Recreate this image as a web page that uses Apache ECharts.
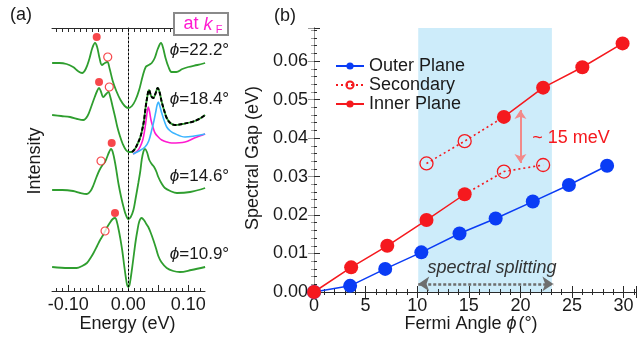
<!DOCTYPE html>
<html>
<head>
<meta charset="utf-8">
<script src="https://cdn.jsdelivr.net/npm/echarts@6/dist/echarts.min.js"></script>
<style>
html, body { margin: 0; padding: 0; background: #fff; }
#chart { width: 638px; height: 342px; }
</style>
</head>
<body>
<div id="chart"></div>
<script>
// ---- panel (a): symmetrized EDCs at kF, [energy (eV), intensity (arb., stacked)]
var edc222 = [[-0.127,228],[-0.115,228],[-0.103,227],[-0.092,224],[-0.084,220],[-0.077,218],[-0.071,222],[-0.065,232],[-0.060,243],[-0.0555,248],[-0.052,244],[-0.048,233],[-0.044,226],[-0.039,228],[-0.035,229],[-0.031,222],[-0.026,210],[-0.02,200],[-0.013,191],[-0.006,185],[0,183],[0.006,185],[0.012,191],[0.018,201],[0.024,215],[0.029,224],[0.034,226],[0.039,228],[0.044,233],[0.049,242],[0.0545,248],[0.058,243],[0.062,233],[0.067,224],[0.072,219],[0.08,219],[0.09,222],[0.1,224],[0.115,226],[0.128,228]];
var edc184 = [[-0.127,176],[-0.112,175],[-0.097,174],[-0.085,172],[-0.075,171],[-0.068,175],[-0.062,184],[-0.056,194],[-0.052,200],[-0.0488,203],[-0.046,200],[-0.0417,194],[-0.037,197],[-0.0333,199],[-0.030,194],[-0.026,184],[-0.022,174],[-0.0183,164],[-0.014,155],[-0.0093,147],[-0.004,141],[0.001,139],[0.006,139],[0.011,142],[0.016,148],[0.0195,153],[0.0223,159],[0.026,170],[0.0285,182],[0.0307,191],[0.0345,201],[0.038,195],[0.0417,193],[0.045,197],[0.049,203],[0.052,199],[0.0557,189],[0.06,180],[0.064,173],[0.07,168],[0.0778,166],[0.09,167],[0.1057,169],[0.118,172],[0.128,176]];
var edc146 = [[-0.127,101],[-0.11,101],[-0.092,100],[-0.08,98],[-0.069,97],[-0.063,100],[-0.058,106],[-0.053,114],[-0.048,121],[-0.043,126],[-0.039,129],[-0.036,133],[-0.032,139],[-0.029,142],[-0.026,139],[-0.022,128],[-0.019,117],[-0.016,106],[-0.012,94],[-0.008,84],[-0.004,76],[0,72],[0.004,74],[0.0085,81],[0.012,92],[0.0167,108],[0.02,120],[0.0223,131],[0.025,139],[0.0278,142],[0.031,139],[0.035,131],[0.039,127],[0.043,124],[0.047,119],[0.05,114],[0.055,108],[0.061,103],[0.07,100],[0.081,98],[0.103,99],[0.128,103]];
var edc109 = [[-0.127,24],[-0.1,23],[-0.086,23],[-0.077,25],[-0.069,28],[-0.063,33],[-0.058,38],[-0.052,45],[-0.047,51],[-0.041,57],[-0.036,63],[-0.031,68],[-0.026,72],[-0.022,73],[-0.019,69],[-0.016,61],[-0.0138,54],[-0.01,40],[-0.007,26],[-0.004,13],[-0.002,6],[0,4],[0.002,6],[0.004,13],[0.007,26],[0.01,40],[0.0125,51],[0.015,60],[0.018,69],[0.022,73],[0.026,71],[0.03,67],[0.0333,64],[0.0375,58],[0.0417,51],[0.046,43],[0.05,35],[0.055,29],[0.064,23],[0.075,20],[0.086,19],[0.105,21],[0.128,24]];
// two-peak fit of the 18.4 deg curve and its components
var fitSum = [[0.006,139],[0.011,142],[0.016,148],[0.0195,153],[0.0223,159],[0.026,170],[0.0285,182],[0.0307,191],[0.0345,201],[0.038,195],[0.0417,193],[0.045,197],[0.049,203],[0.052,199],[0.0557,189],[0.06,180],[0.064,173],[0.07,168],[0.0778,166],[0.09,167],[0.1057,169],[0.118,172],[0.128,176]];
var fitInner = [[0.008,137],[0.015,140],[0.0195,144],[0.024,151],[0.0267,159],[0.029,168],[0.0307,176],[0.0333,184],[0.0355,179],[0.0378,171],[0.041,164],[0.0445,158],[0.05,154],[0.0557,151],[0.064,149],[0.0723,148],[0.0945,149],[0.11,153],[0.128,157]];
var fitOuter = [[0.008,137],[0.018,140],[0.0278,144],[0.034,150],[0.039,161],[0.043,171],[0.0457,179],[0.048,186],[0.05,189],[0.0525,185],[0.0557,178],[0.06,170],[0.064,164],[0.07,160],[0.075,158],[0.0945,154],[0.11,155],[0.128,157]];
var peakMain = [[-0.0527,254],[-0.0488,209],[-0.0277,148],[-0.0222,78]];
var peakSecond = [[-0.0343,234],[-0.0317,204],[-0.0455,130],[-0.0388,60]];
var edcLabels = ['22.2°', '18.4°', '14.6°', '10.9°'];
var edcLabelY = [50, 99, 176, 254.5];

// ---- panel (b): spectral gap vs Fermi angle
var phiOuter = [0, 3.5, 6.9, 10.4, 14.1, 17.6, 21.2, 24.7, 28.4];
var gapOuter = [0, 0.0016, 0.0060, 0.0103, 0.0152, 0.0191, 0.0235, 0.0278, 0.0328];
var phiInner = [0, 3.6, 7.1, 10.9, 14.6, 18.4, 22.2, 26.0, 29.9];
var gapInner = [0, 0.0064, 0.0120, 0.0187, 0.0254, 0.0455, 0.0531, 0.0584, 0.0646];
var phiSecond = [10.9, 14.6, 18.4, 22.2];
var gapSecond = [0.0334, 0.0392, 0.0313, 0.0330];
var splitRange = [10.1, 23.05];   // shaded "spectral splitting" region
var splitArrow = [10.1, 23.2, 0.0021];
var mevArrow = [20, 0.0335, 0.0473];

var FONT = '"Liberation Sans", Arial, sans-serif';
var GREEN = '#2f9e2f', RED = '#f5191e', BLUE = '#0a3cf5', MAGENTA = '#ff1ad0', CYAN = '#3cb4ff';

function pairs(xs, ys) {
    return xs.map(function (x, i) { return [x, ys[i]]; });
}
var outerPts = pairs(phiOuter, gapOuter);
var innerPts = pairs(phiInner, gapInner);
var secondPts = pairs(phiSecond, gapSecond);

var minorA = [];
for (var k = -12; k <= 12; k++) minorA.push(k / 100);
var majorA = [-0.1, -0.05, 0, 0.05, 0.1];

var chart = echarts.init(document.getElementById('chart'));

function edcSeries(data) {
    return {
        type: 'line', xAxisIndex: 0, yAxisIndex: 0, data: data,
        showSymbol: false, smooth: 0.35,
        lineStyle: { color: GREEN, width: 1.8 }, z: 2
    };
}

var series = [
    Object.assign(edcSeries(edc222), {
        markLine: {
            silent: true, symbol: 'none', label: { show: false },
            lineStyle: { color: '#000', width: 1, type: [2, 2] },
            data: [{ xAxis: 0 }]
        }
    }),
    edcSeries(edc184),
    edcSeries(edc146),
    edcSeries(edc109),
    { type: 'line', xAxisIndex: 0, yAxisIndex: 0, data: fitInner, showSymbol: false, smooth: 0.35,
      lineStyle: { color: MAGENTA, width: 1.6 }, z: 3 },
    { type: 'line', xAxisIndex: 0, yAxisIndex: 0, data: fitOuter, showSymbol: false, smooth: 0.35,
      lineStyle: { color: CYAN, width: 1.6 }, z: 3 },
    { type: 'line', xAxisIndex: 0, yAxisIndex: 0, data: fitSum, showSymbol: false, smooth: 0.35,
      lineStyle: { color: '#000', width: 2, type: [4, 2] }, z: 4 },
    { type: 'scatter', xAxisIndex: 0, yAxisIndex: 0, data: peakMain, symbolSize: 8,
      itemStyle: { color: RED }, z: 5 },
    { type: 'scatter', xAxisIndex: 0, yAxisIndex: 0, data: peakSecond, symbolSize: 8,
      itemStyle: { color: '#fff', borderColor: RED, borderWidth: 1.2 }, z: 5 },

    // panel (b)
    { type: 'line', xAxisIndex: 3, yAxisIndex: 2, data: [], z: 0,
      markArea: {
          silent: true, itemStyle: { color: '#cdecfa' },
          data: [[{ xAxis: splitRange[0] }, { xAxis: splitRange[1] }]]
      }
    },
    { name: 'Secondary', type: 'line', xAxisIndex: 3, yAxisIndex: 2,
      data: [secondPts[0], secondPts[1], { value: innerPts[5], symbol: 'none' }],
      symbol: 'circle', symbolSize: 13,
      itemStyle: { color: 'rgba(255,255,255,0)', borderColor: RED, borderWidth: 1.3 },
      lineStyle: { color: RED, width: 1.6, type: [2, 3] } },
    { name: 'Secondary', type: 'line', xAxisIndex: 3, yAxisIndex: 2,
      data: [{ value: innerPts[4], symbol: 'none' }, secondPts[2], secondPts[3]],
      symbol: 'circle', symbolSize: 13,
      itemStyle: { color: 'rgba(255,255,255,0)', borderColor: RED, borderWidth: 1.3 },
      lineStyle: { color: RED, width: 1.6, type: [2, 3] } },
    { name: 'Outer Plane', type: 'line', xAxisIndex: 3, yAxisIndex: 2, data: outerPts,
      symbol: 'circle', symbolSize: 14, itemStyle: { color: BLUE },
      lineStyle: { color: BLUE, width: 1.5 } },
    { name: 'Inner Plane', type: 'line', xAxisIndex: 3, yAxisIndex: 2, data: innerPts.slice(0, 5),
      symbol: 'circle', symbolSize: 14, itemStyle: { color: RED },
      lineStyle: { color: RED, width: 1.5 } },
    { name: 'Inner Plane', type: 'line', xAxisIndex: 3, yAxisIndex: 2, data: innerPts.slice(5),
      symbol: 'circle', symbolSize: 14, itemStyle: { color: RED },
      lineStyle: { color: RED, width: 1.5 },
      markLine: {
          silent: true, label: { show: false }, symbol: ['arrow', 'arrow'],
          data: [
              [{ coord: [mevArrow[0], mevArrow[1]], symbolSize: 9 },
               { coord: [mevArrow[0], mevArrow[2]], symbolSize: 9,
                 lineStyle: { color: '#f28a8a', width: 2, type: 'solid' } }],
              [{ coord: [splitArrow[0], splitArrow[2]], symbolSize: 11 },
               { coord: [splitArrow[1], splitArrow[2]], symbolSize: 11,
                 lineStyle: { color: '#6e6e6e', width: 2.5, type: [3, 2] } }]
          ]
      } }
];

function txt(s, x, y, extra) {
    return Object.assign({
        type: 'text', x: x, y: y, z: 50,
        style: { text: s, font: '18px ' + FONT, fill: '#1a1a1a', align: 'center', verticalAlign: 'middle' }
    }, extra || {});
}

var graphic = [
    txt('(a)', 21, 15),
    txt('(b)', 285, 16),
    txt('Intensity', 35.5, 161, { rotation: Math.PI / 2 }),
    txt('Spectral Gap (eV)', 253, 158, { rotation: Math.PI / 2 }),
    txt('Energy (eV)', 127.5, 324),
    { type: 'text', x: 471, y: 324, z: 50,
      style: { text: 'Fermi Angle {i|ϕ}(°)', font: '18px ' + FONT, fill: '#1a1a1a',
               align: 'center', verticalAlign: 'middle',
               rich: { i: { fontStyle: 'italic', fontSize: 18, fontFamily: FONT, padding: [0, 2, 0, 0] } } } },
    { type: 'rect', z: 40, shape: { x: 174, y: 13, width: 54, height: 22 },
      style: { fill: '#fff', stroke: '#8a8a8a', lineWidth: 2 } },
    { type: 'text', x: 198, y: 24.5, z: 50,
      style: { text: 'at {i|k}', font: '18px ' + FONT, fill: MAGENTA, align: 'center', verticalAlign: 'middle',
               rich: { i: { fontStyle: 'italic', fontSize: 18, fontFamily: FONT, fill: MAGENTA } } } },
    { type: 'text', x: 219, y: 29.5, z: 50,
      style: { text: 'F', font: '11px ' + FONT, fill: MAGENTA, align: 'center', verticalAlign: 'middle' } },
    { type: 'text', x: 571, y: 138.5, z: 50,
      style: { text: '~ 15 meV', font: '18px ' + FONT, fill: RED, align: 'center', verticalAlign: 'middle' } },
    { type: 'text', x: 492, y: 268, z: 50,
      style: { text: 'spectral splitting', font: 'italic 18px ' + FONT, fill: '#333', align: 'center', verticalAlign: 'middle' } }
];
edcLabels.forEach(function (t, i) {
    graphic.push({
        type: 'text', x: 199.5, y: edcLabelY[i], z: 50,
        style: { text: '{i|ϕ}=' + t, font: '17px ' + FONT, fill: '#1a1a1a', align: 'center', verticalAlign: 'middle',
                 backgroundColor: '#fff', padding: [0, 1],
                 rich: { i: { fontStyle: 'italic', fontSize: 17, fontFamily: FONT } } }
    });
});

var axisDark = { lineStyle: { color: '#2a2a2a', width: 1 } };
var labelStyle = { fontSize: 18, color: '#1a1a1a', fontFamily: FONT };

var option = {
    animation: false,
    textStyle: { fontFamily: FONT },
    grid: [
        { left: 52, top: 28, width: 153, height: 263 },
        { left: 314, top: 28, width: 322, height: 264 }
    ],
    legend: {
        data: ['Outer Plane', 'Secondary', 'Inner Plane'],
        orient: 'vertical', left: 330, top: 51.5,
        itemWidth: 28, itemHeight: 9, itemGap: 0,
        selectedMode: false,
        textStyle: { fontSize: 18, color: '#1a1a1a', lineHeight: 19, fontFamily: FONT }
    },
    xAxis: [
        { gridIndex: 0, type: 'value', min: -0.1272, max: 0.1278, position: 'bottom',
          axisLine: axisDark,
          axisTick: { inside: true, length: 6, customValues: majorA, lineStyle: { color: '#2a2a2a' } },
          axisLabel: Object.assign({ customValues: [-0.1, 0, 0.1], margin: 5,
                                     formatter: function (v) { return v.toFixed(2); } }, labelStyle),
          splitLine: { show: false } },
        { gridIndex: 0, type: 'value', min: -0.1272, max: 0.1278, position: 'bottom',
          axisLine: { show: false },
          axisTick: { inside: true, length: 3, customValues: minorA, lineStyle: { color: '#2a2a2a' } },
          axisLabel: { show: false }, splitLine: { show: false } },
        { gridIndex: 0, type: 'value', min: -0.1272, max: 0.1278, position: 'top',
          axisLine: axisDark,
          axisTick: { inside: true, length: 4, customValues: minorA, lineStyle: { color: '#2a2a2a' } },
          axisLabel: { show: false }, splitLine: { show: false } },
        { gridIndex: 1, type: 'value', min: 0, max: 31.2, interval: 5, position: 'bottom', z: 1,
          axisLine: axisDark,
          axisTick: { inside: true, length: 6, lineStyle: { color: '#2a2a2a' } },
          minorTick: { show: true, splitNumber: 5, length: 3, lineStyle: { color: '#2a2a2a' } },
          axisLabel: Object.assign({ margin: 5, showMaxLabel: false }, labelStyle),
          splitLine: { show: false } },
        { gridIndex: 1, type: 'value', min: 0, max: 31.2, interval: 5, position: 'top', z: 1,
          axisLine: axisDark,
          axisTick: { inside: true, length: 6, lineStyle: { color: '#2a2a2a' } },
          minorTick: { show: true, splitNumber: 5, length: 3, lineStyle: { color: '#2a2a2a' } },
          axisLabel: { show: false }, splitLine: { show: false } }
    ],
    yAxis: [
        { gridIndex: 0, type: 'value', min: 0, max: 263, position: 'left',
          axisLine: { show: true, lineStyle: { color: '#2a2a2a', width: 1 } },
          axisTick: { show: false }, axisLabel: { show: false }, splitLine: { show: false } },
        { gridIndex: 0, type: 'value', min: 0, max: 263, position: 'right',
          axisLine: { show: true, lineStyle: { color: '#9a9a9a', width: 1 } },
          axisTick: { show: false }, axisLabel: { show: false }, splitLine: { show: false } },
        { gridIndex: 1, type: 'value', min: 0, max: 0.0686, interval: 0.01, position: 'left', z: 1,
          axisLine: { show: true, lineStyle: { color: '#2a2a2a', width: 1 } },
          axisTick: { inside: true, length: 6, lineStyle: { color: '#2a2a2a' } },
          minorTick: { show: true, splitNumber: 5, length: 3, lineStyle: { color: '#2a2a2a' } },
          axisLabel: Object.assign({ margin: 6, showMaxLabel: false,
                                     formatter: function (v) { return v > 0.065 ? '' : v.toFixed(2); } }, labelStyle),
          splitLine: { show: false } },
        { gridIndex: 1, type: 'value', min: 0, max: 0.0686, interval: 0.01, position: 'right', z: 1,
          axisLine: { show: true, lineStyle: { color: '#9a9a9a', width: 1 } },
          axisTick: { inside: true, length: 6, lineStyle: { color: '#9a9a9a' } },
          minorTick: { show: true, splitNumber: 5, length: 3, lineStyle: { color: '#9a9a9a' } },
          axisLabel: { show: false }, splitLine: { show: false } }
    ],
    graphic: graphic,
    series: series
};

chart.setOption(option);
</script>
</body>
</html>
